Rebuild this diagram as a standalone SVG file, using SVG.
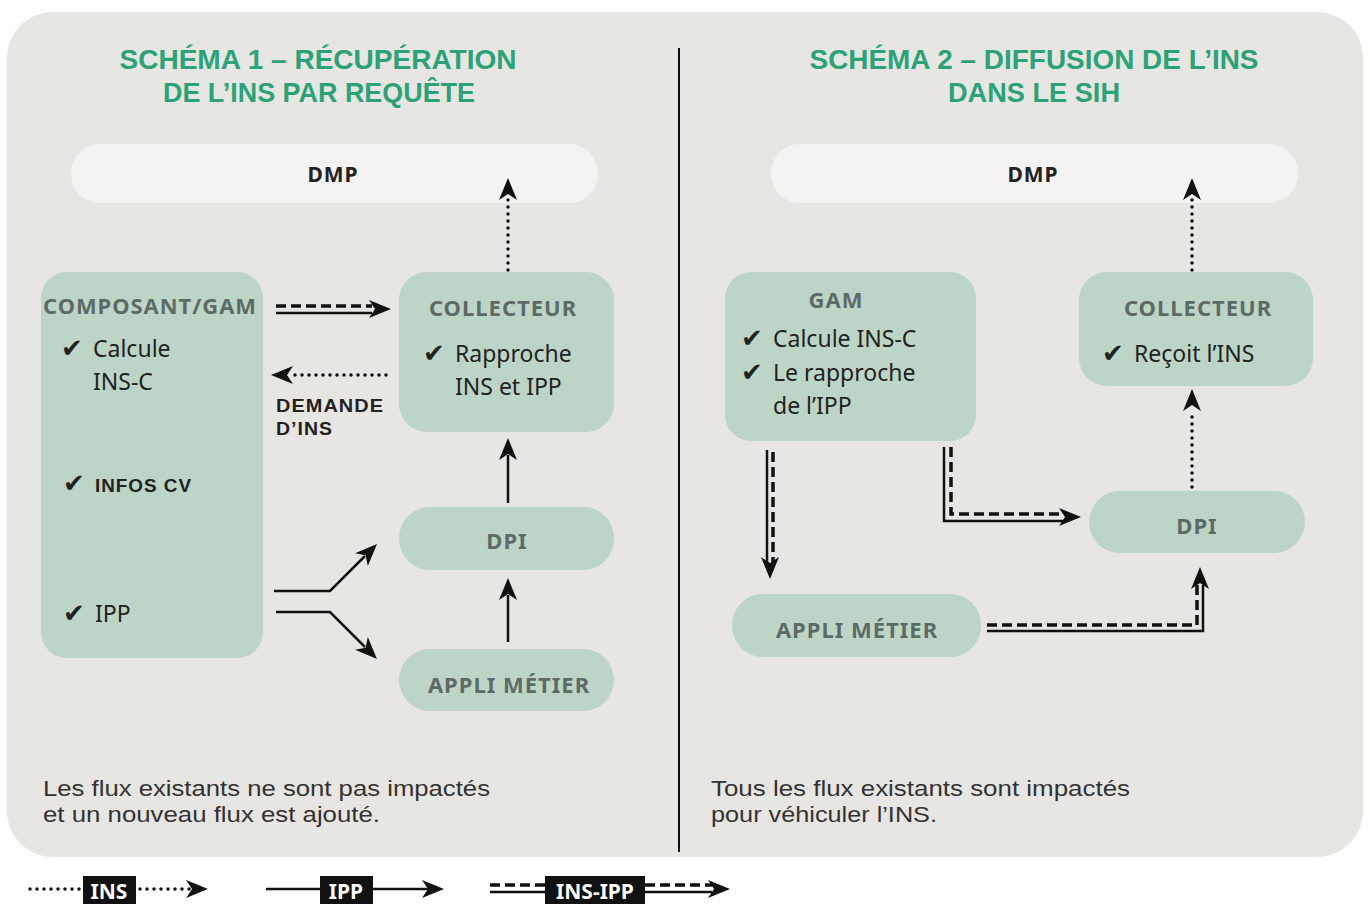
<svg xmlns="http://www.w3.org/2000/svg" xmlns:xlink="http://www.w3.org/1999/xlink" width="1370" height="904" viewBox="0 0 1370 904">
<style>
.panel{fill:#e8e6e3}
.node{fill:#bdd5c6}
.dmp{fill:#f4f3f2}
.title{font-family:"Liberation Sans",Arial,sans-serif;font-weight:700;font-size:28px;fill:#2aa377;text-anchor:middle}
.head{font-family:"Noto Sans","Liberation Sans",sans-serif;font-weight:700;font-size:22px;fill:#5d6b67;text-anchor:middle;letter-spacing:1px}
.dmpt{font-family:"Noto Sans","Liberation Sans",sans-serif;font-weight:700;font-size:21px;fill:#222;text-anchor:middle;letter-spacing:1px}
.body{font-family:"Noto Sans","Liberation Sans",sans-serif;font-size:23px;fill:#222}
.bold{font-family:"Liberation Sans",Arial,sans-serif;font-weight:700;font-size:19px;fill:#222;letter-spacing:1px}
.chk{font-family:"DejaVu Sans",sans-serif;font-weight:700;font-size:26px;fill:#222}
.note{font-family:"Liberation Sans",Arial,sans-serif;font-size:22px;fill:#333}
.leg{font-family:"Noto Sans","Liberation Sans",sans-serif;font-weight:700;font-size:21px;fill:#fff;text-anchor:middle}
.solid{fill:none;stroke:#111;stroke-width:2.5}
.dash{fill:none;stroke:#111;stroke-width:3.5;stroke-dasharray:10 5}
.dot{fill:none;stroke:#111;stroke-width:3.5;stroke-dasharray:0 7;stroke-linecap:round}
.ah{fill:#111}
</style>
<defs>
<path id="ah" d="M0,0 L-22,-9 L-16,0 L-22,9 z"/>
</defs>
<rect x="0" y="0" width="1370" height="904" fill="#ffffff"/>
<rect class="panel" x="7" y="12" width="1356" height="845" rx="46"/>
<line x1="679" y1="48" x2="679" y2="852" stroke="#111" stroke-width="2"/>

<g id="titles">
<text class="title" x="318" y="69" textLength="397" lengthAdjust="spacingAndGlyphs">SCHÉMA 1 – RÉCUPÉRATION</text>
<text class="title" x="319" y="102" textLength="312" lengthAdjust="spacingAndGlyphs">DE L’INS PAR REQUÊTE</text>
<text class="title" x="1034" y="69" textLength="449" lengthAdjust="spacingAndGlyphs">SCHÉMA 2 – DIFFUSION DE L’INS</text>
<text class="title" x="1034" y="102" textLength="172" lengthAdjust="spacingAndGlyphs">DANS LE SIH</text>
</g>

<g id="dmp1"><rect class="dmp" x="71" y="144" width="527" height="59" rx="29"/><text class="dmpt" x="333" y="182">DMP</text></g>
<g id="composant">
<rect class="node" x="41" y="272" width="222" height="386" rx="26"/>
<text class="head" x="150" y="314" textLength="214" lengthAdjust="spacingAndGlyphs">COMPOSANT/GAM</text>
<text class="chk" x="61" y="357">✔</text><text class="body" x="93" y="357">Calcule</text>
<text class="body" x="93" y="390">INS-C</text>
<text class="chk" x="63" y="492">✔</text><text class="bold" x="95" y="492" textLength="97" lengthAdjust="spacingAndGlyphs">INFOS CV</text>
<text class="chk" x="63" y="622">✔</text><text class="body" x="95" y="622">IPP</text>
</g>
<g id="collecteur1">
<rect class="node" x="399" y="272" width="215" height="160" rx="28"/>
<text class="head" x="503" y="316">COLLECTEUR</text>
<text class="chk" x="423" y="362">✔</text><text class="body" x="455" y="362">Rapproche</text>
<text class="body" x="455" y="395">INS et IPP</text>
</g>
<g id="dpi1"><rect class="node" x="399" y="507" width="215" height="63" rx="31"/><text class="head" x="507" y="549">DPI</text></g>
<g id="appli1"><rect class="node" x="399" y="649" width="215" height="62" rx="31"/><text class="head" x="509" y="693">APPLI MÉTIER</text></g>

<g id="dmp2"><rect class="dmp" x="771" y="144" width="527" height="59" rx="29"/><text class="dmpt" x="1033" y="182">DMP</text></g>
<g id="gam">
<rect class="node" x="725" y="272" width="251" height="169" rx="26"/>
<text class="head" x="836" y="308">GAM</text>
<text class="chk" x="741" y="347">✔</text><text class="body" x="773" y="347">Calcule INS-C</text>
<text class="chk" x="741" y="381">✔</text><text class="body" x="773" y="381">Le rapproche</text>
<text class="body" x="773" y="414">de l’IPP</text>
</g>
<g id="collecteur2">
<rect class="node" x="1079" y="272" width="234" height="114" rx="28"/>
<text class="head" x="1198" y="316">COLLECTEUR</text>
<text class="chk" x="1102" y="362">✔</text><text class="body" x="1134" y="362">Reçoit l’INS</text>
</g>
<g id="dpi2"><rect class="node" x="1089" y="491" width="216" height="62" rx="31"/><text class="head" x="1197" y="534">DPI</text></g>
<g id="appli2"><rect class="node" x="732" y="594" width="249" height="63" rx="31"/><text class="head" x="857" y="638">APPLI MÉTIER</text></g>

<g id="labels">
<text class="bold" x="276" y="412" textLength="108" lengthAdjust="spacingAndGlyphs">DEMANDE</text>
<text class="bold" x="276" y="435" textLength="57" lengthAdjust="spacingAndGlyphs">D’INS</text>
<text class="note" x="43" y="796" textLength="447" lengthAdjust="spacingAndGlyphs">Les flux existants ne sont pas impactés</text>
<text class="note" x="43" y="822" textLength="337" lengthAdjust="spacingAndGlyphs">et un nouveau flux est ajouté.</text>
<text class="note" x="711" y="796" textLength="419" lengthAdjust="spacingAndGlyphs">Tous les flux existants sont impactés</text>
<text class="note" x="711" y="822" textLength="226" lengthAdjust="spacingAndGlyphs">pour véhiculer l’INS.</text>
</g>

<g id="connectors">
<path class="dash" d="M276,306 H372"/>
<path class="solid" d="M276,313 H372"/>
<use href="#ah" class="ah" transform="translate(391,309)"/>
<path class="dot" d="M386,375 H290"/>
<use href="#ah" class="ah" transform="translate(271,375) rotate(180)"/>
<path class="dot" d="M508,270 V198"/>
<use href="#ah" class="ah" transform="translate(508,178) rotate(-90)"/>
<path class="solid" d="M508,503 V455"/>
<use href="#ah" class="ah" transform="translate(508,438) rotate(-90)"/>
<path class="solid" d="M508,642 V595"/>
<use href="#ah" class="ah" transform="translate(508,578) rotate(-90)"/>
<path class="solid" d="M274,591 H330 L365,556"/>
<use href="#ah" class="ah" transform="translate(377,544) rotate(-45)"/>
<path class="solid" d="M276,612 H330 L365,647"/>
<use href="#ah" class="ah" transform="translate(377,659) rotate(45)"/>

<path class="dot" d="M1192,270 V198"/>
<use href="#ah" class="ah" transform="translate(1192,178) rotate(-90)"/>
<path class="dot" d="M1192,487 V410"/>
<use href="#ah" class="ah" transform="translate(1192,389) rotate(-90)"/>
<path class="solid" d="M767,450 V565"/>
<path class="dash" d="M773,452 V565"/>
<use href="#ah" class="ah" transform="translate(770,579) rotate(90)"/>
<path class="solid" d="M944,447 V521 H1064"/>
<path class="dash" d="M951,447 V514 H1064"/>
<use href="#ah" class="ah" transform="translate(1081,517)"/>
<path class="dash" d="M987,625 H1197 V585"/>
<path class="solid" d="M987,631 H1203 V585"/>
<use href="#ah" class="ah" transform="translate(1200,567) rotate(-90)"/>
</g>

<g id="legend">
<path class="dot" d="M30,889 H80"/>
<rect x="83" y="876" width="53" height="30" fill="#111"/>
<text class="leg" x="109" y="899">INS</text>
<path class="dot" d="M140,889 H190"/>
<use href="#ah" class="ah" transform="translate(208,889)"/>
<path class="solid" d="M266,889 H320"/>
<rect x="320" y="876" width="53" height="30" fill="#111"/>
<text class="leg" x="346" y="899">IPP</text>
<path class="solid" d="M373,889 H428"/>
<use href="#ah" class="ah" transform="translate(444,889)"/>
<path class="dash" d="M490,885 H545"/>
<path class="solid" d="M490,892 H545"/>
<rect x="545" y="876" width="100" height="30" fill="#111"/>
<text class="leg" x="595" y="899">INS-IPP</text>
<path class="dash" d="M645,885 H712"/>
<path class="solid" d="M645,892 H712"/>
<use href="#ah" class="ah" transform="translate(730,889)"/>
</g>
</svg>
